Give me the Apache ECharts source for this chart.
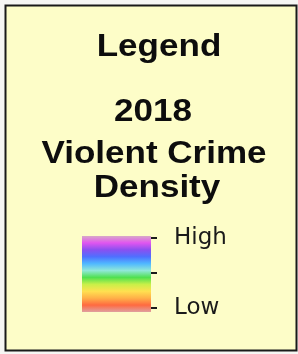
<!DOCTYPE html>
<html>
<head>
<meta charset="utf-8">
<script src="https://cdn.jsdelivr.net/npm/echarts@6/dist/echarts.min.js"></script>
<style>
  html, body { margin: 0; padding: 0; background: #f6f6f4; }
  #main { width: 298px; height: 354px; }
</style>
</head>
<body>
<div id="main"></div>
<script>
// legend title lines
const titleLines = ['Legend', '2018', 'Violent Crime', 'Density']
// colour ramp, top (high) to bottom (low)
const rampColors = ['#d8a8c8', '#e055f0', '#8a50f0', '#4f70ff', '#50b8ff', '#90e8d8',
  '#50e050', '#c8f048', '#ffe050', '#ffb048', '#ff6a40', '#e0a0a0']
// tick values and labels on the ramp axis
const rampTicks = [0.114, 1.114, 2.114]
const rampLabels = ['Low', '', 'High']
const rampTop = 2.171

const chart = echarts.init(document.getElementById('main'))

const stops = rampColors.map(function (c, i) {
  return { offset: i / (rampColors.length - 1), color: c }
})

const titleY = [47, 112, 154, 188]
const titleX = [159, 153, 154, 157]

chart.setOption({
  backgroundColor: '#f6f6f4',
  animation: false,
  graphic: [
    {
      type: 'rect',
      z: 0,
      shape: { x: 5.5, y: 5.5, width: 291, height: 345 },
      style: { fill: '#fdfdc8', stroke: '#1a1a1a', lineWidth: 2 }
    }
  ].concat(titleLines.map(function (t, i) {
    return {
      type: 'text',
      z: 10,
      x: titleX[i],
      y: titleY[i],
      scaleX: 1.13,
      style: {
        text: t,
        font: 'bold 31px "Liberation Sans", Arial, sans-serif',
        fill: '#0d0d0d',
        align: 'center',
        verticalAlign: 'middle'
      }
    }
  })),
  grid: {
    left: 82,
    top: 236,
    width: 69,
    height: 76
  },
  xAxis: {
    type: 'category',
    data: ['ramp'],
    show: false
  },
  yAxis: {
    type: 'value',
    position: 'right',
    min: 0,
    max: rampTop,
    splitLine: { show: false },
    axisLine: { show: false },
    axisTick: {
      show: true,
      length: 6,
      customValues: rampTicks,
      lineStyle: { color: '#1a1a1a', width: 2 }
    },
    axisLabel: {
      customValues: rampTicks,
      margin: 23,
      color: '#1a1a1a',
      fontFamily: 'DejaVu Sans',
      fontSize: 23,
      padding: [4, 0, 0, 0],
      formatter: function (v) {
        const i = rampTicks.findIndex(function (t) { return Math.abs(t - v) < 0.01 })
        return i >= 0 ? rampLabels[i] : ''
      }
    }
  },
  series: [
    {
      type: 'bar',
      barWidth: '100%',
      data: [rampTop],
      itemStyle: {
        color: new echarts.graphic.LinearGradient(0, 0, 0, 1, stops)
      }
    }
  ]
})
</script>
</body>
</html>
